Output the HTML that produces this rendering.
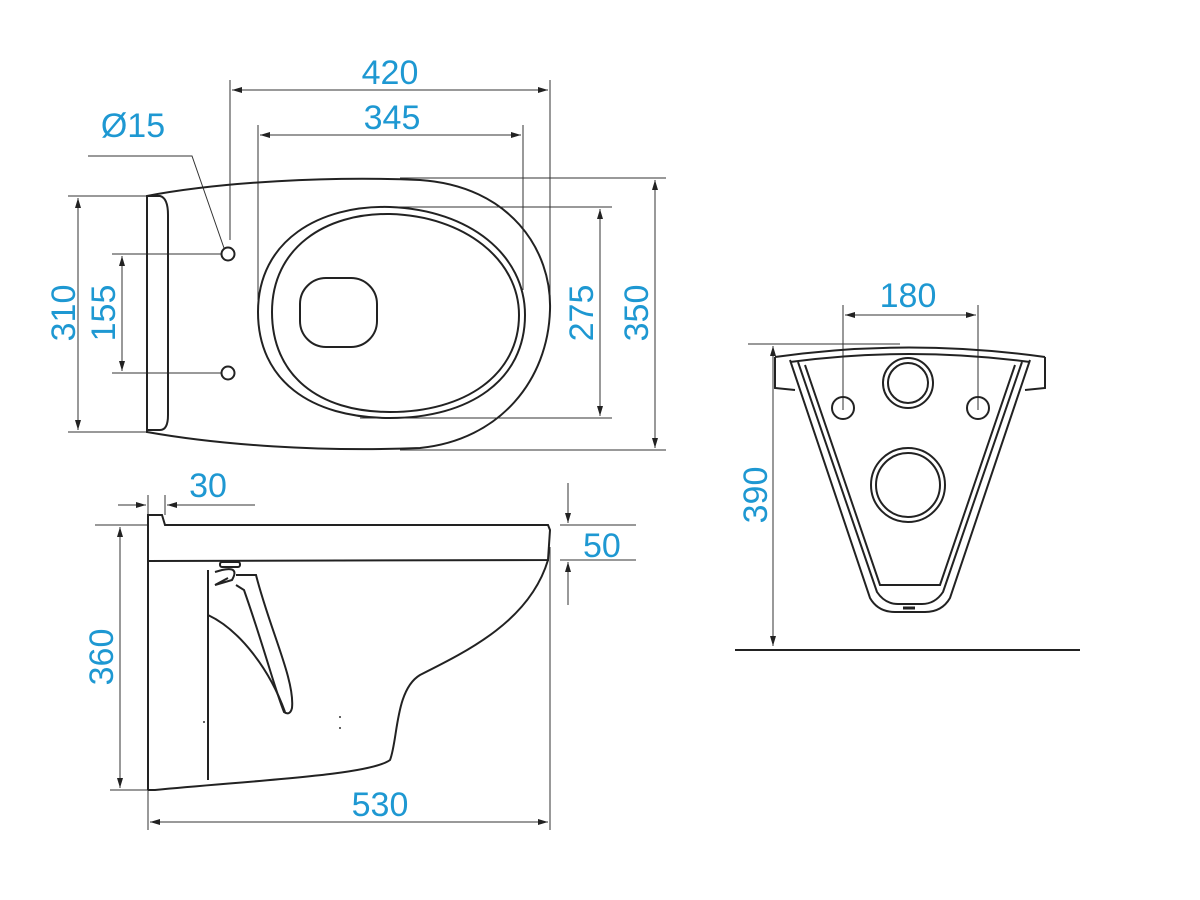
<!DOCTYPE html>
<html><head><meta charset="utf-8"><style>
html,body{margin:0;padding:0;background:#fff}
svg{display:block}
text{font-family:"Liberation Sans",sans-serif;font-size:34px;fill:#1e98d2}
</style></head><body>
<svg width="1200" height="900" viewBox="0 0 1200 900">
<defs>
<marker id="a" viewBox="0 0 10 6" refX="10" refY="3" markerWidth="10" markerHeight="6" orient="auto-start-reverse"><path d="M0,0 L10,3 L0,6 z" fill="#222"/></marker>
</defs>
<g stroke="#333" stroke-width="1" fill="none">
<line x1="230" y1="80" x2="230" y2="240"/><line x1="550" y1="80" x2="550" y2="300"/>
<line x1="232" y1="90" x2="548" y2="90" marker-start="url(#a)" marker-end="url(#a)"/>
<line x1="258" y1="125" x2="258" y2="300"/><line x1="523" y1="125" x2="523" y2="290"/>
<line x1="260" y1="135" x2="521" y2="135" marker-start="url(#a)" marker-end="url(#a)"/>
<polyline points="88,156 192,156 224,248"/>
<line x1="68" y1="196" x2="147" y2="196"/><line x1="68" y1="432" x2="147" y2="432"/>
<line x1="78" y1="198" x2="78" y2="430" marker-start="url(#a)" marker-end="url(#a)"/>
<line x1="112" y1="254" x2="222" y2="254"/><line x1="112" y1="373" x2="222" y2="373"/>
<line x1="122" y1="256" x2="122" y2="371" marker-start="url(#a)" marker-end="url(#a)"/>
<line x1="370" y1="207" x2="612" y2="207"/><line x1="360" y1="418" x2="612" y2="418"/>
<line x1="600" y1="209" x2="600" y2="416" marker-start="url(#a)" marker-end="url(#a)"/>
<line x1="400" y1="178" x2="666" y2="178"/><line x1="400" y1="450" x2="666" y2="450"/>
<line x1="655" y1="180" x2="655" y2="448" marker-start="url(#a)" marker-end="url(#a)"/>
</g>
<g stroke="#222" stroke-width="2" fill="none">
<path d="M147,196 C220,182 330,176 420,180 C510,186 552,250 550,310 C548,380 500,440 420,448 C320,452 220,445 147,432 Z"/>
<path d="M147,196 L160,196 Q168,198 168,215 L168,415 Q168,430 160,430 L147,430"/>
<path d="M258,312 C258,240 320,205 390,207 C470,210 525,255 525,315 C525,380 470,418 390,418 C310,418 258,380 258,312 Z"/>
<path d="M272,312 C272,248 325,213 390,214 C465,216 519,260 519,315 C519,375 465,412 390,412 C318,412 272,375 272,312 Z"/>
<rect x="300" y="278" width="77" height="69" rx="26"/>
<circle cx="228" cy="254" r="6.5"/><circle cx="228" cy="373" r="6.5"/>
</g>
<text x="390" y="84" text-anchor="middle">420</text>
<text x="392" y="129" text-anchor="middle">345</text>
<text x="133" y="137" text-anchor="middle">Ø15</text>
<text transform="translate(75,313) rotate(-90)" text-anchor="middle">310</text>
<text transform="translate(115,313) rotate(-90)" text-anchor="middle">155</text>
<text transform="translate(593,313) rotate(-90)" text-anchor="middle">275</text>
<text transform="translate(648,313) rotate(-90)" text-anchor="middle">350</text>

<g stroke="#333" stroke-width="1" fill="none">
<line x1="95" y1="525" x2="148" y2="525"/><line x1="110" y1="790" x2="148" y2="790"/>
<line x1="120" y1="527" x2="120" y2="788" marker-start="url(#a)" marker-end="url(#a)"/>
<line x1="148" y1="790" x2="148" y2="830"/><line x1="550" y1="547" x2="550" y2="830"/>
<line x1="150" y1="822" x2="548" y2="822" marker-start="url(#a)" marker-end="url(#a)"/>
<line x1="118" y1="505" x2="146" y2="505" marker-end="url(#a)"/>
<line x1="255" y1="505" x2="167" y2="505" marker-end="url(#a)"/>
<line x1="148" y1="495" x2="148" y2="515"/><line x1="165" y1="495" x2="165" y2="515"/>
<line x1="560" y1="525" x2="636" y2="525"/><line x1="560" y1="560" x2="636" y2="560"/>
<line x1="568" y1="483" x2="568" y2="523" marker-end="url(#a)"/>
<line x1="568" y1="605" x2="568" y2="562" marker-end="url(#a)"/>
</g>
<g stroke="#222" stroke-width="2" fill="none">
<path d="M148,790 L148,515 L162,515 L165,525 L548,525 L550,530 L548,560 L148,561"/>
<path d="M548,560 C530,620 470,650 420,675 C395,690 398,740 390,760 C370,775 260,780 155,790 L148,790"/>
<path d="M208,570 L208,780"/>
<path d="M215,572 L222,570 Q240,566 232,580 L215,585 L228,578"/>
<path d="M236,575 L256,575 C270,630 295,680 292,708 Q290,716 284,712 C275,690 265,650 244,590 L236,585"/>
<path d="M208,615 C240,630 270,670 285,712"/>
<rect x="220" y="562" width="20" height="5" rx="2"/>
</g>
<circle cx="340" cy="717" r="1" fill="#333"/><circle cx="340" cy="728" r="1" fill="#333"/><circle cx="204" cy="722" r="1" fill="#333"/>
<text x="208" y="497" text-anchor="middle">30</text>
<text x="583" y="557">50</text>
<text transform="translate(113,657) rotate(-90)" text-anchor="middle">360</text>
<text x="380" y="816" text-anchor="middle">530</text>

<g stroke="#333" stroke-width="1" fill="none">
<line x1="843" y1="305" x2="843" y2="410"/><line x1="978" y1="305" x2="978" y2="410"/>
<line x1="845" y1="315" x2="976" y2="315" marker-start="url(#a)" marker-end="url(#a)"/>
<line x1="748" y1="344" x2="900" y2="344"/>
<line x1="773" y1="346" x2="773" y2="646" marker-start="url(#a)" marker-end="url(#a)"/>
</g>
<line x1="735" y1="650" x2="1080" y2="650" stroke="#222" stroke-width="2"/>
<g stroke="#222" stroke-width="2" fill="none">
<path d="M775,357 Q908,338 1045,357"/>
<path d="M790,362 Q908,346 1030,362"/>
<path d="M775,357 L775,388 L795,390"/>
<path d="M1045,357 L1045,388 L1025,390"/>
<path d="M790,360 L870,598 Q878,612 895,612 L925,612 Q942,612 950,598 L1030,360"/>
<path d="M798,362 L877,592 Q885,604 898,604 L922,604 Q935,604 943,592 L1022,362"/>
<path d="M805,365 L880,585 L940,585 L1015,365"/>
<circle cx="908" cy="383" r="25"/><circle cx="908" cy="383" r="20"/>
<circle cx="908" cy="485" r="37"/><circle cx="908" cy="485" r="32"/>
<circle cx="843" cy="408" r="11"/><circle cx="978" cy="408" r="11"/>
</g>
<line x1="903" y1="608" x2="915" y2="608" stroke="#222" stroke-width="3"/>
<text x="908" y="307" text-anchor="middle">180</text>
<text transform="translate(767,495) rotate(-90)" text-anchor="middle">390</text>
</svg>
</body></html>
